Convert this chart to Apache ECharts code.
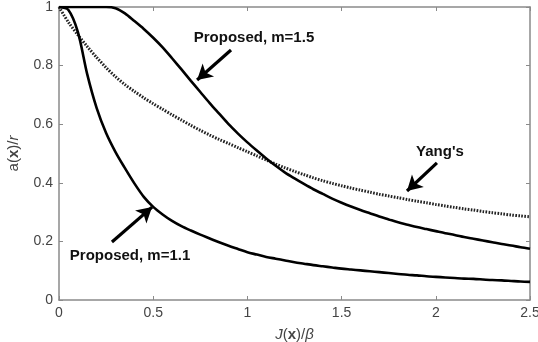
<!DOCTYPE html>
<html>
<head>
<meta charset="utf-8">
<script src="https://cdn.jsdelivr.net/npm/echarts@6/dist/echarts.min.js"></script>
<style>
  html, body { margin: 0; padding: 0; background: #fff; }
  #chart { width: 538px; height: 342px; }
</style>
</head>
<body>
<div id="chart"></div>
<script>
// x values: J(x)/beta
const jRatio = [
  0, 0.05, 0.1, 0.15, 0.2, 0.25, 0.3, 0.35, 0.4, 0.45,
  0.5, 0.55, 0.6, 0.65, 0.7, 0.75, 0.8, 0.85, 0.9, 0.95,
  1.0, 1.05, 1.1, 1.15, 1.2, 1.25, 1.3, 1.35, 1.4, 1.45,
  1.5, 1.55, 1.6, 1.65, 1.7, 1.75, 1.8, 1.85, 1.9, 1.95,
  2.0, 2.05, 2.1, 2.15, 2.2, 2.25, 2.3, 2.35, 2.4, 2.45, 2.5
];

// a(x)/r
const proposedM11 = [
  1, 0.99, 0.915, 0.77, 0.655, 0.57, 0.505, 0.45, 0.398, 0.352,
  0.318, 0.292, 0.27, 0.252, 0.237, 0.223, 0.21, 0.197, 0.185, 0.174,
  0.163, 0.155, 0.147, 0.141, 0.135, 0.129, 0.124, 0.119, 0.115, 0.111,
  0.107, 0.104, 0.101, 0.098, 0.095, 0.092, 0.089, 0.086, 0.084, 0.081,
  0.079, 0.077, 0.075, 0.073, 0.072, 0.07, 0.068, 0.067, 0.065, 0.063, 0.062
];

const proposedM15 = [
  1, 1, 1, 1, 1, 1, 0.996, 0.978, 0.952, 0.925,
  0.895, 0.862, 0.825, 0.787, 0.748, 0.71, 0.672, 0.636, 0.6, 0.568,
  0.538, 0.51, 0.483, 0.458, 0.435, 0.415, 0.396, 0.378, 0.362, 0.346,
  0.332, 0.319, 0.307, 0.296, 0.285, 0.275, 0.265, 0.257, 0.249, 0.242,
  0.235, 0.228, 0.222, 0.215, 0.209, 0.203, 0.197, 0.191, 0.186, 0.18, 0.175
];

const yangs = [
  1, 0.948, 0.905, 0.865, 0.828, 0.793, 0.762, 0.735, 0.712, 0.69,
  0.67, 0.651, 0.632, 0.614, 0.596, 0.579, 0.563, 0.548, 0.534, 0.52,
  0.506, 0.492, 0.478, 0.464, 0.451, 0.439, 0.428, 0.417, 0.407, 0.398,
  0.39, 0.382, 0.375, 0.368, 0.361, 0.355, 0.349, 0.343, 0.337, 0.332,
  0.326, 0.321, 0.316, 0.311, 0.307, 0.302, 0.298, 0.294, 0.29, 0.287, 0.284
];

// annotation texts, anchored in data space (text centre, arrow tail, arrow tip)
const annoTexts = ["Proposed, m=1.5", "Proposed, m=1.1", "Yang's"];
const annoTextAt = [[1.035, 0.894], [0.377, 0.15], [2.022, 0.505]];
const annoTail = [[0.913, 0.853], [0.281, 0.198], [2.006, 0.468]];
const annoTip = [[0.733, 0.751], [0.494, 0.317], [1.847, 0.372]];

const BLACK = "#000";
const AXIS_COL = "#8a8a8a";
const LABEL_COL = "#444";
const FONT = "Liberation Sans, Arial, sans-serif";

function pairs(ys) {
  return jRatio.map((x, i) => [x, ys[i]]);
}

const chart = echarts.init(document.getElementById("chart"), null, { renderer: "canvas" });

function axisCommon() {
  return {
    axisLine: { show: true, onZero: false, lineStyle: { color: AXIS_COL, width: 1.5 } },
    axisTick: { show: true, inside: true, length: 4, lineStyle: { color: AXIS_COL } },
    splitLine: { show: false }
  };
}

const nameRich = {
  i: { fontStyle: "italic", fontSize: 15, color: LABEL_COL, fontFamily: FONT },
  n: { fontSize: 15, color: LABEL_COL, fontFamily: FONT },
  b: { fontWeight: "bold", fontSize: 15, color: LABEL_COL, fontFamily: FONT }
};

const option = {
  animation: false,
  backgroundColor: "#fff",
  grid: {
    left: 59, right: 8, top: 7, bottom: 42,
    containLabel: false,
    outerBoundsMode: "none"
  },

  xAxis: [
    Object.assign({
      type: "value", min: 0, max: 2.5, interval: 0.5, position: "bottom",
      axisLabel: { color: LABEL_COL, fontSize: 14, fontFamily: FONT, margin: 6 },
      name: "{i|J}{n|(}{b|x}{n|)/}{i|β}",
      nameLocation: "middle",
      nameGap: 27,
      nameTextStyle: { rich: nameRich }
    }, axisCommon()),
    Object.assign({
      type: "value", min: 0, max: 2.5, interval: 0.5, position: "top",
      axisLabel: { show: false }
    }, axisCommon())
  ],

  yAxis: [
    Object.assign({
      type: "value", min: 0, max: 1, interval: 0.2, position: "left",
      axisLabel: { color: LABEL_COL, fontSize: 14, fontFamily: FONT, margin: 6 },
      name: "{n|a(}{b|x}{n|)/}{i|r}",
      nameLocation: "middle",
      nameGap: 38,
      nameTextStyle: { rich: nameRich }
    }, axisCommon()),
    Object.assign({
      type: "value", min: 0, max: 1, interval: 0.2, position: "right",
      axisLabel: { show: false }
    }, axisCommon())
  ],

  series: [
    {
      name: "Yang's",
      type: "line",
      data: pairs(yangs),
      smooth: 0.3,
      showSymbol: false,
      lineStyle: { color: "#222", width: 3, type: [1.6, 1.4] }
    },
    {
      name: "Proposed, m=1.1",
      type: "line",
      data: pairs(proposedM11),
      smooth: 0.3,
      showSymbol: false,
      lineStyle: { color: BLACK, width: 2.6 }
    },
    {
      name: "Proposed, m=1.5",
      type: "line",
      data: pairs(proposedM15),
      smooth: 0.3,
      showSymbol: false,
      lineStyle: { color: BLACK, width: 2.6 },
      markLine: {
        silent: true,
        symbol: ["none", "arrow"],
        symbolSize: [13, 15],
        lineStyle: { color: BLACK, width: 3.2, type: "solid" },
        label: { show: false },
        data: annoTexts.map((t, i) => [
          { coord: annoTail[i] },
          { coord: annoTip[i] }
        ])
      },
      markPoint: {
        silent: true,
        symbol: "circle",
        symbolSize: 0,
        label: {
          show: true,
          position: "inside",
          color: "#111",
          fontWeight: "bold",
          fontSize: 15,
          fontFamily: FONT,
          formatter: (p) => p.name
        },
        data: annoTexts.map((t, i) => ({ name: t, coord: annoTextAt[i] }))
      }
    }
  ]
};

chart.setOption(option);
</script>
</body>
</html>
